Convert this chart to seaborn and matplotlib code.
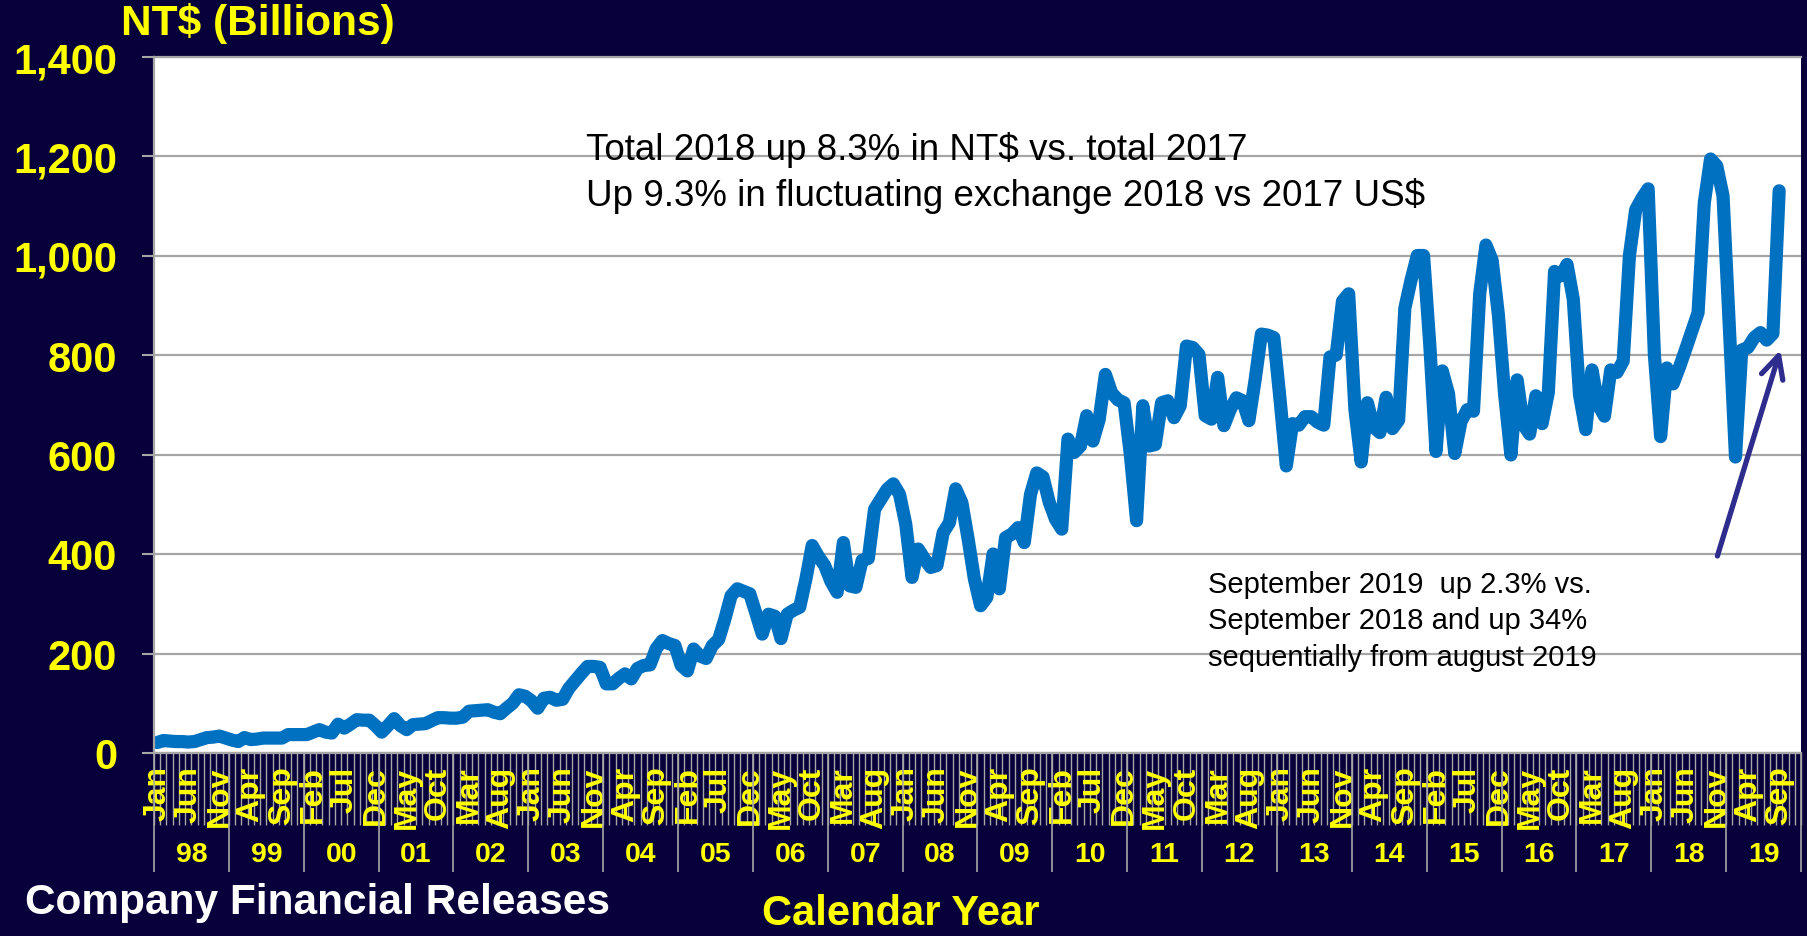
import numpy as np
import pandas as pd
import matplotlib
matplotlib.use("Agg")
import matplotlib.pyplot as plt
import seaborn as sns

# ---- monthly revenue, NT$ billions (Jan 1998 .. Sep 2019) ----
y1998 = [21, 25, 24, 23, 23, 22, 23, 27, 31, 32, 34, 30]
y1999 = [26, 23, 31, 27, 28, 30, 30, 30, 30, 37, 37, 37]
y2000 = [37, 42, 47, 42, 40, 58, 50, 58, 67, 66, 66, 55]
y2001 = [42, 55, 69, 55, 47, 57, 58, 59, 65, 71, 71, 70]
y2002 = [70, 72, 84, 85, 86, 87, 82, 79, 90, 100, 117, 114]
y2003 = [105, 90, 110, 112, 106, 108, 130, 145, 160, 174, 174, 172]
y2004 = [139, 139, 150, 159, 149, 170, 176, 177, 210, 226, 220, 216]
y2005 = [176, 165, 209, 195, 190, 216, 228, 269, 316, 330, 325, 320]
y2006 = [280, 239, 279, 275, 230, 279, 287, 293, 350, 417, 395, 377]
y2007 = [345, 323, 423, 336, 333, 387, 391, 490, 510, 530, 541, 520]
y2008 = [460, 353, 410, 390, 373, 377, 443, 463, 531, 503, 430, 350]
y2009 = [296, 313, 400, 330, 433, 440, 453, 423, 520, 563, 555, 504]
y2010 = [470, 450, 631, 604, 617, 678, 627, 670, 761, 724, 710, 704]
y2011 = [600, 467, 698, 617, 620, 704, 708, 674, 698, 818, 815, 801]
y2012 = [678, 671, 755, 658, 690, 714, 708, 668, 750, 842, 840, 835]
y2013 = [710, 577, 662, 659, 676, 676, 665, 659, 796, 800, 908, 923]
y2014 = [690, 585, 704, 655, 644, 715, 652, 669, 894, 951, 1000, 1000]
y2015 = [820, 606, 768, 722, 602, 666, 690, 687, 923, 1021, 990, 880]
y2016 = [720, 599, 750, 660, 641, 718, 662, 725, 968, 959, 982, 912]
y2017 = [720, 650, 770, 700, 677, 770, 765, 788, 1000, 1092, 1115, 1134]
y2018 = [800, 636, 774, 742, 775, 811, 848, 885, 1106, 1194, 1180, 1120]
y2019 = [860, 595, 810, 815, 835, 845, 830, 843, 1130]

month_names = ["Jan", "Feb", "Mar", "Apr", "May", "Jun",
               "Jul", "Aug", "Sep", "Oct", "Nov", "Dec"]
year_labels = ["98", "99", "00", "01", "02", "03", "04", "05", "06", "07", "08",
               "09", "10", "11", "12", "13", "14", "15", "16", "17", "18", "19"]
y_ticks = [0, 200, 400, 600, 800, 1000, 1200, 1400]

values = (y1998 + y1999 + y2000 + y2001 + y2002 + y2003 + y2004 + y2005 + y2006
          + y2007 + y2008 + y2009 + y2010 + y2011 + y2012 + y2013 + y2014 + y2015
          + y2016 + y2017 + y2018 + y2019)
n_cat = 12 * len(year_labels)          # category slots on the axis (to Dec 2019)
df = pd.DataFrame({"month": np.arange(len(values)), "revenue": values})

sns.set_style("white")
plt.rcParams["font.family"] = ["Liberation Sans", "DejaVu Sans"]

BG = "#07003B"
GREY = "#A6A6A6"
YELLOW = "#FFFF00"
W, H = 1808, 937

fig = plt.figure(figsize=(W / 100, H / 100), dpi=100, facecolor=BG)
ax = fig.add_axes([154 / W, 1 - 754 / H, (1801 - 154) / W, (754 - 57.5) / H])
ax.set_facecolor("white")

sns.lineplot(data=df, x="month", y="revenue", ax=ax, color="#0070C0",
             legend=False)
for ln in ax.get_lines():
    ln.set_linewidth(9.5)
    ln.set_solid_joinstyle("round")
    ln.set_solid_capstyle("round")

ax.set_xlim(-0.5, n_cat - 0.5)
ax.set_ylim(0, 1400)
ax.set_xlabel("")
ax.set_ylabel("")

# y axis
ax.set_yticks(y_ticks)
ax.set_yticklabels([f"{v:,}" for v in y_ticks])
ax.yaxis.grid(True, color=GREY, linewidth=1.6)
ax.xaxis.grid(False)
ax.set_axisbelow(True)
ax.tick_params(axis="y", length=8.6, width=1.5, color=GREY, pad=18,
               labelsize=30, labelcolor=YELLOW, left=True)
for lab in ax.get_yticklabels():
    lab.set_fontweight("bold")

for side in ["left", "bottom", "top"]:
    ax.spines[side].set_color(GREY)
    ax.spines[side].set_linewidth(1.6)
ax.spines["right"].set_visible(False)

# x axis: category boundaries as long ticks, month labels every 5 months
ax.set_xticks(np.arange(-0.5, n_cat, 1.0))
ax.set_xticklabels([])
ax.tick_params(axis="x", which="major", length=52, width=1.0, color=GREY,
               direction="out", bottom=True)
lab_pos = np.arange(0, len(values), 5)
ax.set_xticks(lab_pos, minor=True)
ax.set_xticklabels([month_names[p % 12] for p in lab_pos], minor=True)
ax.tick_params(axis="x", which="minor", length=0, pad=9.0, labelsize=23,
               labelcolor=YELLOW, labelrotation=90)
for lab in ax.get_xticklabels(minor=True):
    lab.set_fontweight("bold")

# year dividers and year labels
xt = ax.get_xaxis_transform()
year_edges = np.arange(0, n_cat + 1, 12) - 0.5
ax.vlines(year_edges, -0.171, 0, transform=xt, colors=GREY, linewidth=1.2,
          clip_on=False)
for k, yl in enumerate(year_labels):
    ax.text(12 * k + 5.5, -0.145, yl, transform=xt, ha="center", va="center",
            color=YELLOW, fontsize=20.5, fontweight="bold", clip_on=False)

# titles / captions
fig.text(121 / W, 1 - 23 / H, "NT$ (Billions)", color=YELLOW, fontsize=30.5,
         fontweight="bold", ha="left", va="center")
fig.text(25 / W, 1 - 903 / H, "Company Financial Releases", color="white",
         fontsize=30.5, fontweight="bold", ha="left", va="center")
fig.text(901 / W, 1 - 914 / H, "Calendar Year", color=YELLOW, fontsize=30,
         fontweight="bold", ha="center", va="center")

# annotations
fig.text(586 / W, 1 - 150 / H, "Total 2018 up 8.3% in NT$ vs. total 2017",
         color="black", fontsize=26.5, ha="left", va="center")
fig.text(586 / W, 1 - 196 / H, "Up 9.3% in fluctuating exchange 2018 vs 2017 US$",
         color="black", fontsize=26.5, ha="left", va="center")
for txt, yy in [("September 2019  up 2.3% vs.", 585),
                ("September 2018 and up 34%", 621),
                ("sequentially from august 2019", 658)]:
    fig.text(1208 / W, 1 - yy / H, txt, color="black", fontsize=21,
             ha="left", va="center")

ax.annotate("", xy=(260.2, 810), xytext=(250.1, 396),
            arrowprops=dict(arrowstyle="->", color="#2E2C8C", lw=3.8,
                            mutation_scale=40, shrinkA=0, shrinkB=0))

fig.savefig("out.png", dpi=100, facecolor=BG)
